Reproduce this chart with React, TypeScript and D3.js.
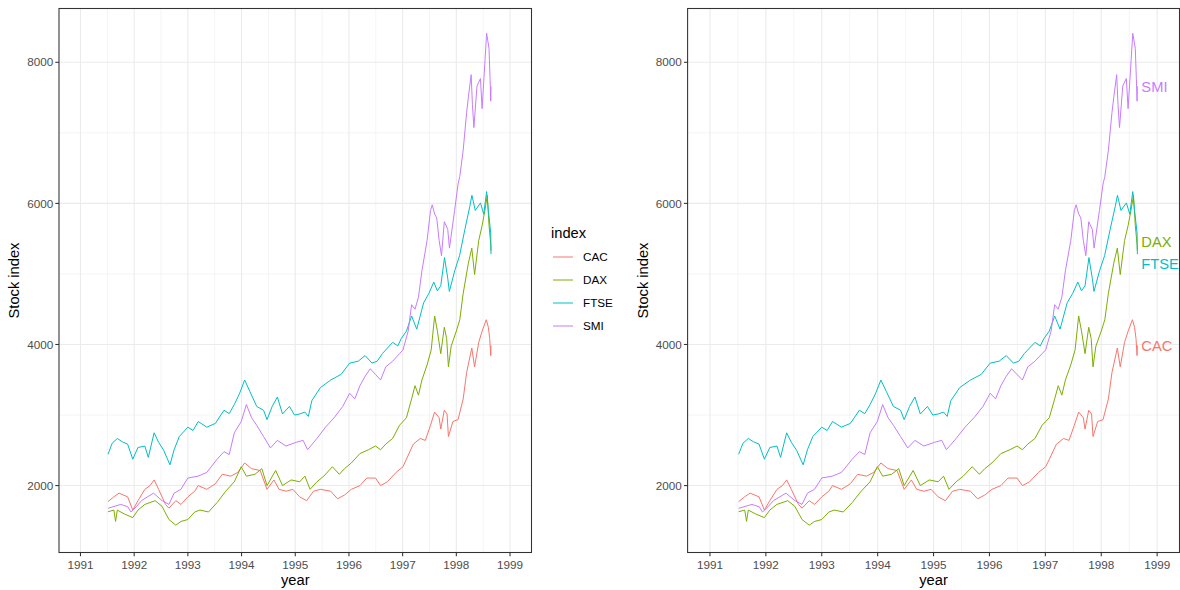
import React from "react";
import * as d3 from "d3";

type Pt = [number, number];

const seriesNames = ["CAC", "DAX", "FTSE", "SMI"];
const seriesColors = ["#F8766D", "#7CAE00", "#00BFC4", "#C77CFF"];
const xTickYears = [1991, 1992, 1993, 1994, 1995, 1996, 1997, 1998, 1999];
const yTickValues = [2000, 4000, 6000, 8000];
const xLimits = [1991, 1999];
const yLimits = [1402, 8412];

const cac: Pt[] = [
  [1991.513, 1773], [1991.62, 1840], [1991.718, 1893], [1991.878, 1840], [1991.974, 1653],
  [1992.071, 1786], [1992.199, 1947], [1992.295, 2000], [1992.372, 2080], [1992.455, 1947],
  [1992.583, 1733], [1992.647, 1680], [1992.776, 1786], [1992.872, 1733], [1993.0, 1840],
  [1993.128, 1920], [1993.192, 2000], [1993.353, 1947], [1993.513, 2027], [1993.641, 2160],
  [1993.801, 2134], [1993.929, 2187], [1994.058, 2321], [1994.186, 2240], [1994.346, 2214],
  [1994.474, 1947], [1994.603, 2080], [1994.699, 1947], [1994.827, 1920], [1994.955, 1947],
  [1995.083, 1840], [1995.212, 1786], [1995.34, 1920], [1995.468, 1947], [1995.66, 1920],
  [1995.788, 1813], [1995.917, 1866], [1996.045, 1947], [1996.205, 2000], [1996.333, 2107],
  [1996.494, 2107], [1996.59, 2000], [1996.718, 2054], [1996.878, 2187], [1997.006, 2267],
  [1997.071, 2374], [1997.199, 2588], [1997.327, 2668], [1997.423, 2641], [1997.519, 2855],
  [1997.596, 3042], [1997.679, 2962], [1997.71, 2801], [1997.776, 3068], [1997.827, 3015],
  [1997.853, 2695], [1997.936, 2908], [1998.032, 2935], [1998.128, 3229], [1998.192, 3603],
  [1998.288, 3950], [1998.34, 3683], [1998.417, 4030], [1998.481, 4190], [1998.558, 4351],
  [1998.596, 4244], [1998.622, 4084], [1998.641, 3843], [1998.646, 3986],
];

const dax: Pt[] = [
  [1991.513, 1629], [1991.622, 1653], [1991.654, 1492], [1991.686, 1653], [1991.814, 1599],
  [1991.974, 1546], [1992.071, 1653], [1992.199, 1733], [1992.391, 1786], [1992.519, 1706],
  [1992.647, 1519], [1992.776, 1439], [1992.872, 1492], [1993.0, 1519], [1993.128, 1626],
  [1993.224, 1653], [1993.385, 1626], [1993.545, 1760], [1993.705, 1920], [1993.865, 2054],
  [1993.994, 2267], [1994.09, 2134], [1994.25, 2160], [1994.378, 2240], [1994.474, 2000],
  [1994.635, 2214], [1994.763, 2000], [1994.923, 2080], [1995.083, 2054], [1995.179, 2134],
  [1995.276, 1947], [1995.404, 2054], [1995.532, 2134], [1995.692, 2267], [1995.821, 2160],
  [1995.917, 2240], [1996.045, 2321], [1996.205, 2454], [1996.365, 2508], [1996.494, 2561],
  [1996.59, 2508], [1996.686, 2588], [1996.814, 2668], [1996.942, 2855], [1997.071, 2962],
  [1997.167, 3229], [1997.231, 3416], [1997.295, 3282], [1997.359, 3496], [1997.455, 3710],
  [1997.532, 3923], [1997.596, 4404], [1997.647, 4190], [1997.71, 3870], [1997.776, 4244],
  [1997.82, 4084], [1997.853, 3683], [1997.904, 3977], [1998.0, 4190], [1998.064, 4351],
  [1998.128, 4725], [1998.224, 5152], [1998.288, 5366], [1998.34, 4992], [1998.417, 5473],
  [1998.481, 5687], [1998.532, 5900], [1998.577, 6114], [1998.609, 5687], [1998.641, 5420],
  [1998.646, 5330],
];

const ftse: Pt[] = [
  [1991.513, 2444], [1991.59, 2600], [1991.686, 2668], [1991.78, 2620], [1991.878, 2588],
  [1991.974, 2374], [1992.071, 2540], [1992.199, 2560], [1992.263, 2400], [1992.372, 2748],
  [1992.455, 2614], [1992.55, 2500], [1992.667, 2294], [1992.744, 2508], [1992.84, 2695],
  [1993.0, 2828], [1993.096, 2780], [1993.192, 2908], [1993.353, 2828], [1993.513, 2882],
  [1993.673, 3068], [1993.77, 3020], [1993.865, 3149], [1993.96, 3300], [1994.058, 3496],
  [1994.154, 3336], [1994.282, 3122], [1994.41, 3068], [1994.474, 2935], [1994.571, 3122],
  [1994.667, 3256], [1994.763, 3015], [1994.891, 3122], [1994.987, 3000], [1995.083, 3015],
  [1995.179, 3042], [1995.244, 2980], [1995.308, 3202], [1995.468, 3389], [1995.66, 3496],
  [1995.853, 3576], [1996.013, 3736], [1996.173, 3763], [1996.301, 3843], [1996.429, 3736],
  [1996.526, 3763], [1996.622, 3870], [1996.718, 3950], [1996.814, 4030], [1996.91, 3980],
  [1996.974, 4084], [1997.071, 4190], [1997.167, 4404], [1997.263, 4217], [1997.391, 4591],
  [1997.49, 4725], [1997.58, 4885], [1997.647, 4760], [1997.71, 4832], [1997.78, 5232],
  [1997.84, 4938], [1997.87, 4752], [1997.97, 5045], [1998.06, 5259], [1998.16, 5633],
  [1998.25, 5954], [1998.29, 6114], [1998.353, 5900], [1998.45, 6007], [1998.51, 5847],
  [1998.564, 6167], [1998.596, 5900], [1998.641, 5580], [1998.646, 5280],
];

const smi: Pt[] = [
  [1991.513, 1678], [1991.75, 1733], [1991.88, 1700], [1991.94, 1626], [1992.04, 1700],
  [1992.135, 1786], [1992.36, 1893], [1992.52, 1786], [1992.647, 1733], [1992.744, 1893],
  [1992.87, 1947], [1993.0, 2107], [1993.19, 2134], [1993.353, 2187], [1993.545, 2374],
  [1993.673, 2481], [1993.77, 2440], [1993.865, 2748], [1993.994, 2908], [1994.09, 3149],
  [1994.186, 2962], [1994.282, 2855], [1994.41, 2695], [1994.538, 2534], [1994.667, 2641],
  [1994.827, 2561], [1995.019, 2614], [1995.147, 2641], [1995.23, 2508], [1995.404, 2668],
  [1995.564, 2828], [1995.724, 2962], [1995.885, 3122], [1996.013, 3309], [1996.109, 3229],
  [1996.205, 3416], [1996.301, 3549], [1996.397, 3656], [1996.494, 3576], [1996.59, 3496],
  [1996.686, 3683], [1996.814, 3763], [1996.942, 3870], [1997.006, 3923], [1997.103, 4190],
  [1997.167, 4564], [1997.23, 4500], [1997.295, 4671], [1997.359, 5045], [1997.455, 5473],
  [1997.519, 5900], [1997.551, 5980], [1997.596, 5850], [1997.635, 5793], [1997.68, 5473],
  [1997.724, 5259], [1997.776, 5740], [1997.84, 5633], [1997.872, 5366], [1997.968, 5900],
  [1998.032, 6274], [1998.064, 6381], [1998.128, 6755], [1998.192, 7289], [1998.224, 7503],
  [1998.276, 7824], [1998.30, 7400], [1998.327, 7075], [1998.385, 7663], [1998.449, 7770],
  [1998.48, 7343], [1998.535, 8037], [1998.564, 8411], [1998.609, 8198], [1998.628, 7770],
  [1998.641, 7450], [1998.646, 7660],
];

const seriesData: Pt[][] = [cac, dax, ftse, smi];

const FONT = "'Liberation Sans', Arial, Helvetica, sans-serif";

function expand(lim: number[]): [number, number] {
  const r = lim[1] - lim[0];
  return [lim[0] - 0.05 * r, lim[1] + 0.05 * r];
}

type PanelProps = {
  left: number;
  right: number;
  top: number;
  bottom: number;
  directLabels: boolean;
  yTitleX: number;
};

function Panel({ left, right, top, bottom, directLabels, yTitleX }: PanelProps) {
  const x = d3.scaleLinear().domain(expand(xLimits)).range([left, right]);
  const y = d3.scaleLinear().domain(expand(yLimits)).range([bottom, top]);
  const line = d3
    .line<Pt>()
    .x((d) => x(d[0]))
    .y((d) => y(d[1]));

  const xMinor = xTickYears.slice(0, -1).map((t) => t + 0.5).concat([xTickYears[0] - 0.5]);
  const yMinor = [1000, 3000, 5000, 7000, 9000].filter(
    (v) => v > y.domain()[0] && v < y.domain()[1]
  );
  const xMinorIn = xMinor.filter((v) => v > x.domain()[0] && v < x.domain()[1]);

  // direct labels with simple collision avoidance
  let labels: { name: string; color: string; ly: number; lx: number }[] = [];
  if (directLabels) {
    const items = seriesNames.map((name, i) => {
      const last = seriesData[i][seriesData[i].length - 1];
      return { name, color: seriesColors[i], ly: y(last[1]), lx: x(last[0]) + 4 };
    });
    items.sort((a, b) => a.ly - b.ly);
    const gap = 22;
    for (let iter = 0; iter < 20; iter++) {
      for (let i = 1; i < items.length; i++) {
        const d = items[i].ly - items[i - 1].ly;
        if (d < gap) {
          const push = (gap - d) / 2;
          items[i].ly += push;
          items[i - 1].ly -= push;
        }
      }
    }
    labels = items;
  }

  const clipId = `clip-${Math.round(left)}`;
  return (
    <g>
      <defs>
        <clipPath id={clipId}>
          <rect x={left} y={top} width={right - left} height={bottom - top} />
        </clipPath>
      </defs>
      <rect x={left} y={top} width={right - left} height={bottom - top} fill="#FFFFFF" />
      {yMinor.map((v) => (
        <line key={`ym${v}`} x1={left} x2={right} y1={y(v)} y2={y(v)} stroke="#EBEBEB" strokeWidth={0.55} />
      ))}
      {xMinorIn.map((v) => (
        <line key={`xm${v}`} x1={x(v)} x2={x(v)} y1={top} y2={bottom} stroke="#EBEBEB" strokeWidth={0.55} />
      ))}
      {yTickValues.map((v) => (
        <line key={`yM${v}`} x1={left} x2={right} y1={y(v)} y2={y(v)} stroke="#EBEBEB" strokeWidth={1.07} />
      ))}
      {xTickYears.map((v) => (
        <line key={`xM${v}`} x1={x(v)} x2={x(v)} y1={top} y2={bottom} stroke="#EBEBEB" strokeWidth={1.07} />
      ))}
      <g clipPath={`url(#${clipId})`}>
        {seriesData.map((s, i) => (
          <path
            key={seriesNames[i]}
            d={line(s) || ""}
            fill="none"
            stroke={seriesColors[i]}
            strokeWidth={1}
            strokeLinejoin="round"
          />
        ))}
      </g>
      <rect x={left} y={top} width={right - left} height={bottom - top} fill="none" stroke="#333333" strokeWidth={1.07} />
      {xTickYears.map((v) => (
        <g key={`xt${v}`}>
          <line x1={x(v)} x2={x(v)} y1={bottom} y2={bottom + 3.7} stroke="#333333" strokeWidth={1.07} />
          <text x={x(v)} y={bottom + 16.5} textAnchor="middle" fontSize={11.7} fill="#4D4D4D" fontFamily={FONT}>
            {v}
          </text>
        </g>
      ))}
      {yTickValues.map((v) => (
        <g key={`yt${v}`}>
          <line x1={left - 3.7} x2={left} y1={y(v)} y2={y(v)} stroke="#333333" strokeWidth={1.07} />
          <text x={left - 5.8} y={y(v) + 4.2} textAnchor="end" fontSize={11.7} fill="#4D4D4D" fontFamily={FONT}>
            {v}
          </text>
        </g>
      ))}
      <text x={(left + right) / 2} y={bottom + 32} textAnchor="middle" fontSize={14.7} fill="#000000" fontFamily={FONT}>
        year
      </text>
      <text
        transform={`translate(${yTitleX},${(top + bottom) / 2}) rotate(-90)`}
        textAnchor="middle"
        fontSize={14.7}
        fill="#000000"
        fontFamily={FONT}
      >
        Stock index
      </text>
      {labels.map((l) => (
        <text key={`lab${l.name}`} x={l.lx} y={l.ly + 5.3} fontSize={14.7} fill={l.color} fontFamily={FONT}>
          {l.name}
        </text>
      ))}
    </g>
  );
}

function Legend({ x0, y0 }: { x0: number; y0: number }) {
  return (
    <g>
      <text x={x0} y={y0} fontSize={14.7} fill="#000000" fontFamily={FONT}>
        index
      </text>
      {seriesNames.map((n, i) => {
        const cy = y0 + 19 + i * 23;
        return (
          <g key={`leg${n}`}>
            <line x1={x0 + 2} x2={x0 + 22} y1={cy} y2={cy} stroke={seriesColors[i]} strokeWidth={1} />
            <text x={x0 + 32} y={cy + 4.2} fontSize={11.7} fill="#000000" fontFamily={FONT}>
              {n}
            </text>
          </g>
        );
      })}
    </g>
  );
}

export default function App() {
  return (
    <svg
      width={1180}
      height={590}
      style={{ position: "absolute", left: 0, top: 0, background: "#FFFFFF" }}
      xmlns="http://www.w3.org/2000/svg"
    >
      <rect x={0} y={0} width={1180} height={590} fill="#FFFFFF" />
      <Panel left={59} right={531.5} top={8.5} bottom={552.5} directLabels={false} yTitleX={19} />
      <Legend x0={551} y0={238} />
      <Panel left={687.6} right={1179.5} top={8.5} bottom={552.5} directLabels={true} yTitleX={648} />
    </svg>
  );
}
